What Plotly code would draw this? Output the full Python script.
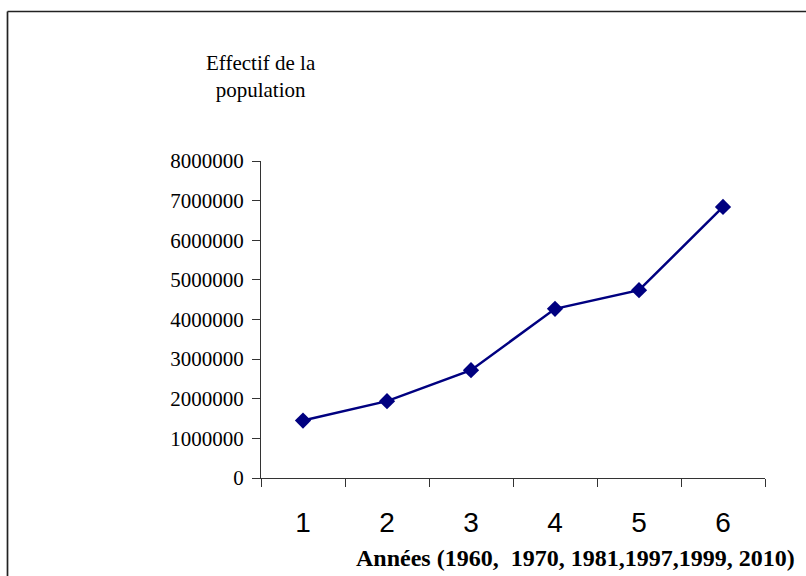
import plotly.graph_objects as go

categories = ["1", "2", "3", "4", "5", "6"]
population = [1450000, 1940000, 2720000, 4270000, 4740000, 6840000]
y_ticks = [0, 1000000, 2000000, 3000000, 4000000, 5000000, 6000000, 7000000, 8000000]

W, H = 806, 576
L, R, T, B = 261, 41, 161, 98
pw = W - L - R
ph = H - T - B


def px_x(x):
    return (x - L) / pw


def px_y(y):
    return (H - B - y) / ph


fig = go.Figure()
fig.add_trace(go.Scatter(
    x=categories, y=population, mode="lines+markers",
    line=dict(color="#000080", width=2.5),
    marker=dict(symbol="diamond", size=12.5, color="#000080"),
    showlegend=False,
))

axis_col = "#333333"
fig.update_layout(
    width=W, height=H,
    margin=dict(l=L, r=R, t=T, b=B),
    paper_bgcolor="white", plot_bgcolor="white",
    xaxis=dict(
        type="category", range=[-0.5, len(categories) - 0.5],
        tickson="boundaries", ticks="outside", ticklen=8,
        tickcolor=axis_col, showline=True, linecolor=axis_col, linewidth=1,
        showgrid=False, zeroline=False,
        tickfont=dict(family="Liberation Sans, Arial", size=28, color="black"),
        ticklabelstandoff=19,
    ),
    yaxis=dict(
        range=[0, 8000000], tickvals=y_ticks, tickformat="d",
        ticks="outside", ticklen=8, tickcolor=axis_col,
        showline=True, linecolor=axis_col, linewidth=1,
        showgrid=False, zeroline=False,
        tickfont=dict(family="Liberation Serif, Times New Roman", size=21, color="black"),
        ticklabelstandoff=4,
    ),
    annotations=[
        dict(text="Effectif de la<br>population", x=px_x(261), y=px_y(76.5),
             xref="paper", yref="paper", xanchor="center", yanchor="middle",
             showarrow=False, align="center",
             font=dict(family="Liberation Serif, Times New Roman", size=21, color="black")),
        dict(text="<b>Années (1960,\u00a0 1970, 1981,1997,1999, 2010)</b>",
             x=px_x(575.5), y=px_y(558), xref="paper", yref="paper",
             xanchor="center", yanchor="middle", showarrow=False,
             font=dict(family="Liberation Serif, Times New Roman", size=24, color="black")),
    ],
    shapes=[
        dict(type="line", xref="paper", yref="paper",
             x0=px_x(7.5), x1=px_x(806), y0=px_y(11.5), y1=px_y(11.5),
             line=dict(color="#222222", width=1.7)),
        dict(type="line", xref="paper", yref="paper",
             x0=px_x(7.5), x1=px_x(7.5), y0=px_y(11.5), y1=px_y(576),
             line=dict(color="#222222", width=1.7)),
    ],
)

fig.write_html("out.html", config=dict(displayModeBar=False),
               post_script="document.body.style.margin='0';")
